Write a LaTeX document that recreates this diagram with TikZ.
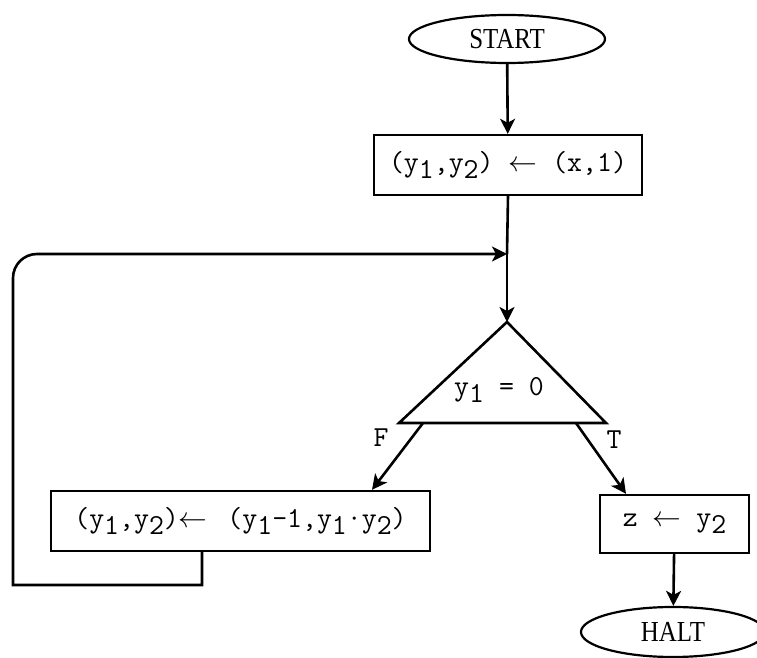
\documentclass[tikz,border=0pt]{standalone}
\usepackage{fontspec}
\newfontfamily\capfont[FakeStretch=0.86]{Liberation Serif}
\usetikzlibrary{arrows.meta, shapes.geometric}
\newcommand{\dn}[1]{\raisebox{-0.6ex}{#1}}
\newcommand{\assign}{$\leftarrow$}

\begin{document}
\begin{tikzpicture}[x=0.5pt, y=-0.5pt,
  line/.style={black, line width=1.3pt},
  arr/.style={line, -{Stealth[length=7.5pt, width=7.5pt, inset=2pt]}},
  term/.style={draw, black, line width=1.1pt, ellipse, inner sep=0pt, font=\capfont\fontsize{14.5}{16}\selectfont},
  act/.style={draw, black, line width=1.2pt, rectangle, inner sep=0pt, minimum height=30pt, font=\ttfamily\fontsize{14.5}{16}\selectfont},
  lbl/.style={black, font=\ttfamily\fontsize{14.5}{16}\selectfont}]
\useasboundingbox (0,0) rectangle (757,658);
% terminals and boxes
\node[term, minimum width=98pt, minimum height=24pt] (start) at (507,39) {START};
\node[act, minimum width=134pt] (init) at (508,165) {(y\dn{1},y\dn{2}) \assign{} (x,1)};
\node[act, minimum width=189.5pt] (body) at (240.5,521) {(y\dn{1},y\dn{2})\assign\ \,(y\dn{1}-1,y\dn{1}·y\dn{2})};
\node[act, minimum width=74.5pt, minimum height=29pt] (out) at (674.5,524) {z \assign{} y\dn{2}};
\node[term, minimum width=92pt, minimum height=25pt] (halt) at (673,632) {HALT};
% test triangle
\coordinate (apex) at (507,322);
\coordinate (bl) at (399,423);
\coordinate (br) at (606,423);
\draw[line, line join=miter] (apex) -- (br) -- (bl) -- cycle;
\node[lbl] (test) at (499,390) {y\dn{1} = 0};
\coordinate (fs) at (423,423);
\coordinate (ts) at (576,423);
\node[lbl] (f) at (381,438) {F};
\node[lbl] (t) at (614,440) {T};
% loop back
\coordinate (join) at (507,254);
\coordinate (lb) at (13,585);
\coordinate (lt) at (13,254);
\draw[arr] (start) -- (init);
\draw[line] (init.south) -- (join);
\draw[arr] (join) -- (apex);
\draw[arr] (fs) -- ([xshift=65.75pt]body.north);
\draw[arr] (ts) -- ([xshift=-24.25pt]out.north);
\draw[arr] (out) -- (halt);
\draw[arr] ([xshift=-19.25pt]body.south) |- (lb) -- (13,279) [rounded corners=12pt] -- (lt) -- (join);
\end{tikzpicture}
\end{document}
